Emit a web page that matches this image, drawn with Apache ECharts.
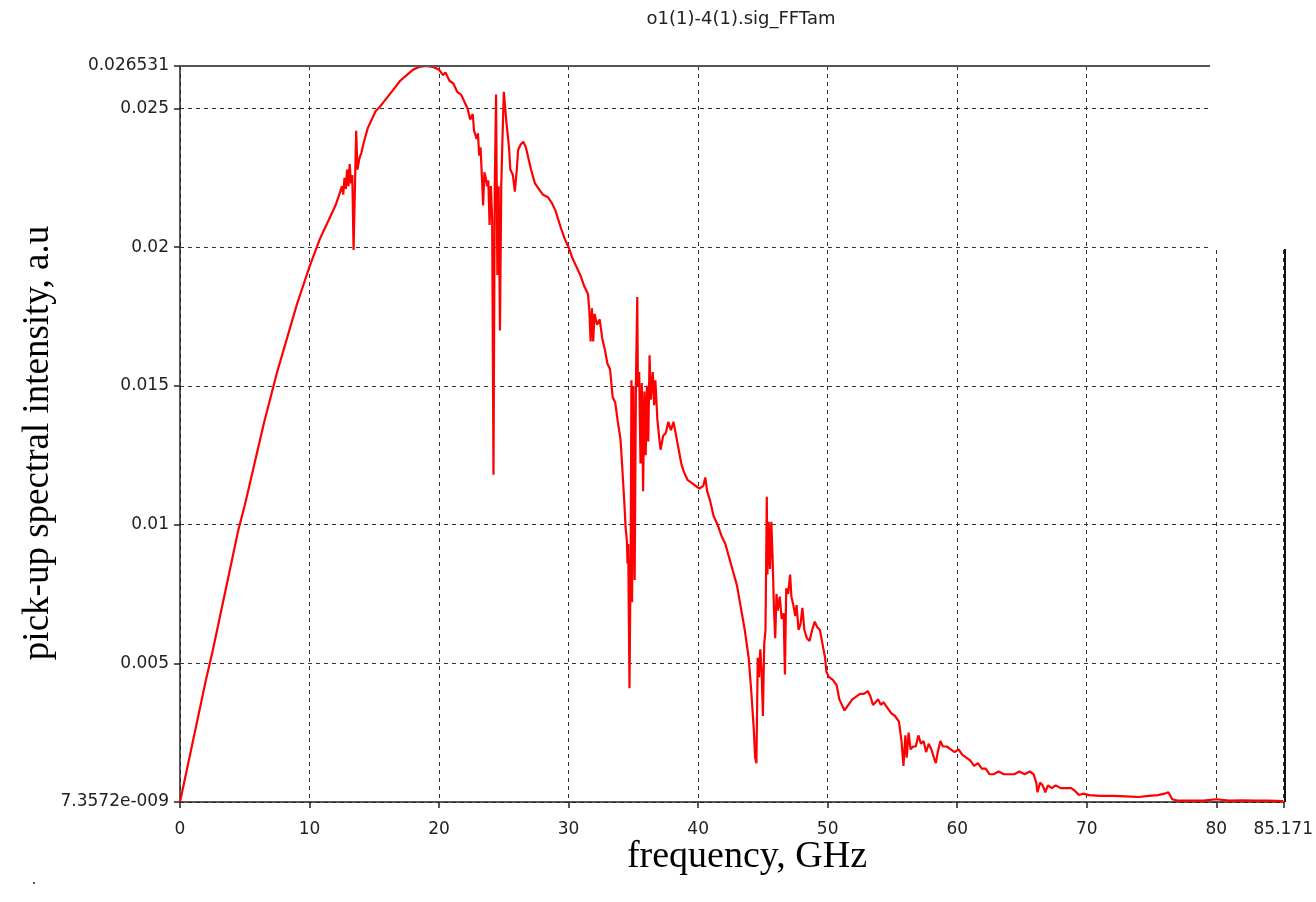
<!DOCTYPE html>
<html>
<head>
<meta charset="utf-8">
<script src="https://cdn.jsdelivr.net/npm/echarts@6/dist/echarts.min.js"></script>
<style>
html,body{margin:0;padding:0;background:#fff;}
#chart{width:1316px;height:902px;}
</style>
</head>
<body>
<div id="chart"></div>
<script>
const chartTitle = 'o1(1)-4(1).sig_FFTam';
const xName = 'frequency, GHz';
const yName = 'pick-up spectral intensity, a.u';
const xMax = 85.171;
const yMax = 0.026531;
const yMinLabel = '7.3572e-009';

const freq = [
0,0.5,1,1.5,2,2.5,3,3.5,4,4.5,5,5.5,6,6.5,7,7.5,8,8.5,9,9.5,10,
10.4,10.8,11.2,11.6,12.0,12.3,12.5,12.6,12.7,12.8,12.9,13.0,13.1,13.2,13.3,13.4,13.6,13.7,13.85,14.0,14.2,14.5,14.8,15.1,15.5,16.0,16.5,17.0,17.5,18.0,18.5,19.0,19.5,20.0,
20.3,20.5,20.8,21.1,21.4,21.7,22.0,22.2,22.4,22.6,22.7,22.9,23.0,23.1,23.2,23.3,23.4,23.5,23.6,23.7,23.8,23.9,24.0,
24.1,24.2,24.3,24.4,24.5,24.6,24.7,24.8,24.9,25.0,25.2,25.4,25.5,25.7,25.85,26.0,26.1,26.3,26.5,26.7,26.9,27.1,27.4,27.7,28.0,28.4,28.7,29.0,29.4,29.7,30.0,
30.3,30.6,30.9,31.2,31.5,31.6,31.7,31.8,31.9,32.0,32.2,32.4,32.6,32.8,33.0,33.2,33.4,33.6,33.8,34.0,34.1,34.2,34.3,34.4,34.5,34.55,34.6,34.7,34.8,34.85,34.9,35.0,35.1,35.2,35.3,35.35,35.45,35.55,35.65,35.75,35.85,35.95,36.05,36.15,36.25,36.35,36.5,36.6,36.7,36.85,37.0,37.1,37.3,37.5,37.7,37.9,38.1,38.3,38.5,38.7,38.9,39.2,39.5,39.8,40.1,40.4,40.55,40.7,40.9,
41.2,41.5,41.8,42.1,42.4,42.7,43.0,43.3,43.6,43.9,44.1,44.3,44.4,44.5,44.6,44.7,44.8,44.9,45.0,45.1,45.2,45.3,45.35,45.45,45.55,45.65,45.75,45.85,45.95,46.05,46.15,46.3,46.45,46.6,46.7,46.8,46.95,47.1,47.2,47.35,47.5,47.6,47.75,47.9,48.05,48.2,48.4,48.6,48.8,49.0,49.2,49.4,49.6,49.8,49.9,
50.1,50.4,50.7,50.9,51.1,51.3,51.6,51.9,52.2,52.5,52.8,53.1,53.3,53.5,53.7,53.9,54.1,54.3,54.6,54.9,55.2,55.5,55.7,55.85,56.0,56.1,56.25,56.4,56.6,56.8,57.0,57.2,57.4,57.6,57.8,58.0,58.2,58.35,58.5,58.7,58.9,59.2,59.5,59.8,
60.1,60.4,60.7,61.0,61.3,61.6,61.9,62.2,62.5,62.8,63.2,63.6,64.0,64.4,64.8,65.2,65.6,65.9,66.1,66.2,66.4,66.6,66.8,67.0,67.3,67.6,68.0,68.4,68.8,69.1,69.4,69.7,
70.2,71.0,72.0,73.0,74.0,74.8,75.5,76.0,76.3,76.6,77.0,78.0,79.0,80.0,81.0,82.0,83.0,84.0,85.171
];

const intensity = [
0,0.0011,0.0022,0.0033,0.0044,0.0054,0.0065,0.0076,0.0087,0.0098,0.0107,0.0117,0.0127,0.0137,0.0146,0.0155,0.0163,0.0171,0.0179,0.0186,0.0193,
0.0198,0.0203,0.0207,0.0211,0.0215,0.0219,0.0222,0.0219,0.0225,0.0221,0.0228,0.0222,0.0230,0.0223,0.0226,0.0199,0.0242,0.0228,0.0232,0.0234,0.0238,0.0243,0.0246,0.0249,0.0251,0.0254,0.0257,0.0260,0.0262,0.0264,0.0265,0.02653,0.0265,0.0264,
0.0262,0.0263,0.0260,0.0259,0.0256,0.0255,0.0252,0.0250,0.0246,0.0248,0.0242,0.0239,0.0241,0.0233,0.0236,0.0226,0.0215,0.0227,0.0225,0.0222,0.0224,0.0208,0.0222,
0.0210,0.0118,0.0222,0.0255,0.0190,0.0222,0.0170,0.0222,0.0240,0.0256,0.0245,0.0236,0.0228,0.0226,0.0220,0.0228,0.0235,0.0237,0.0238,0.0236,0.0232,0.0228,0.0223,0.0221,0.0219,0.0218,0.0216,0.0213,0.0207,0.0203,0.0200,
0.0196,0.0193,0.0190,0.0186,0.0183,0.0177,0.0166,0.0178,0.0166,0.0176,0.0172,0.0174,0.0167,0.0163,0.0158,0.0156,0.0146,0.0144,0.0137,0.0131,0.0124,0.0116,0.0108,0.0099,0.0094,0.0086,0.0093,0.0041,0.0095,0.0152,0.0072,0.0150,0.0080,0.0152,0.0182,0.0150,0.0155,0.0122,0.0151,0.0112,0.0148,0.0125,0.0150,0.0130,0.0161,0.0145,0.0155,0.0143,0.0152,0.0138,0.0131,0.0127,0.0132,0.0133,0.0137,0.0134,0.0137,0.0132,0.0127,0.0122,0.0119,0.0116,0.0115,0.0114,0.0113,0.0114,0.0117,0.0112,0.0109,
0.0103,0.0100,0.0096,0.0093,0.0088,0.0083,0.0078,0.0070,0.0062,0.0052,0.0040,0.0026,0.0016,0.0014,0.0052,0.0045,0.0055,0.0047,0.0031,0.0057,0.0062,0.0110,0.0082,0.0101,0.0084,0.0101,0.0088,0.0070,0.0059,0.0075,0.0069,0.0074,0.0066,0.0068,0.0046,0.0077,0.0075,0.0082,0.0074,0.0071,0.0067,0.0071,0.0062,0.0064,0.0070,0.0062,0.0059,0.0058,0.0062,0.0065,0.0063,0.0062,0.0057,0.0052,0.0047,
0.0045,0.0044,0.0042,0.0037,0.0035,0.0033,0.0035,0.0037,0.0038,0.0039,0.0039,0.0040,0.0038,0.0035,0.0036,0.0037,0.0035,0.0036,0.0034,0.0032,0.0031,0.0029,0.0022,0.0013,0.0024,0.0016,0.0025,0.0019,0.0020,0.0020,0.0024,0.0021,0.0022,0.0018,0.0021,0.0019,0.0016,0.0014,0.0018,0.0022,0.0020,0.0020,0.0019,0.0018,
0.0019,0.0017,0.0016,0.0015,0.0013,0.0014,0.0012,0.0012,0.0010,0.0010,0.0011,0.0010,0.0010,0.0010,0.0011,0.0010,0.0011,0.0010,0.0007,0.00035,0.0007,0.0006,0.00035,0.0006,0.0005,0.0006,0.0005,0.0005,0.0005,0.0004,0.00025,0.0003,
0.00025,0.00022,0.00022,0.0002,0.00018,0.00022,0.00025,0.0003,0.00035,0.0001,0.00005,0.00005,0.00005,0.0001,0.00005,0.00006,0.00005,0.00005,0.00003
];

const chart = echarts.init(document.getElementById('chart'), null, {renderer:'canvas'});
const seriesData = freq.map((f,i)=>[f,intensity[i]]);

const tickFont = 'DejaVu Sans';

chart.setOption({
  animation:false,
  backgroundColor:'#fff',
  title:{
    text:chartTitle,
    left:736, top:5, textAlign:'center',
    textStyle:{fontFamily:tickFont,fontSize:18,fontWeight:'normal',color:'#222'}
  },
  grid:{left:180,right:31,top:66,bottom:100,containLabel:false},
  xAxis:{
    type:'value', min:0, max:xMax, interval:10,
    axisLine:{show:true,lineStyle:{color:'#222',width:1.5}},
    axisTick:{show:true,length:6,inside:false,lineStyle:{color:'#222',width:1.5}},
    axisLabel:{margin:19,fontFamily:tickFont,fontSize:17,color:'#222',
      formatter:v=> (Math.abs(v-xMax)<1e-6 ? '85.171' : String(Math.round(v))) },
    splitLine:{show:true,lineStyle:{color:'#333',width:1,type:[4,4]}}
  },
  yAxis:{
    type:'value', min:0, max:yMax, interval:0.005,
    axisLine:{show:true,lineStyle:{color:'#222',width:1.5}},
    axisTick:{show:true,length:6,lineStyle:{color:'#222',width:1.5}},
    axisLabel:{margin:11,fontFamily:tickFont,fontSize:17,color:'#222',
      formatter:v=>{
        if (v===0) return yMinLabel;
        if (Math.abs(v-yMax)<1e-9) return '0.026531';
        return String(+v.toFixed(4));
      }},
    splitLine:{show:true,lineStyle:{color:'#333',width:1,type:[4,4]}}
  },
  series:[{
    type:'line', data:seriesData, showSymbol:false, symbol:'none',
    lineStyle:{color:'#ff0000',width:2.2}, z:3, clip:true
  }],
  graphic:[
    {type:'rect', z:100, shape:{x:1211,y:0,width:105,height:249}, style:{fill:'#fff'}},
    {type:'line', z:101, shape:{x1:180,y1:66,x2:1210,y2:66}, style:{stroke:'#555',lineWidth:2}},
    {type:'line', z:101, shape:{x1:1285,y1:249,x2:1285,y2:802}, style:{stroke:'#111',lineWidth:2}},
    {type:'text', z:101, x:38, y:443, rotation:Math.PI/2,
      style:{text:yName, font:'37px "Liberation Serif"', fill:'#000', align:'center', verticalAlign:'middle'}},
    {type:'text', z:101, x:747, y:857,
      style:{text:xName, font:'38px "Liberation Serif"', fill:'#000', align:'center', verticalAlign:'middle'}},
    {type:'rect', z:101, shape:{x:33,y:882,width:2,height:2}, style:{fill:'#555'}}
  ]
});
</script>
</body>
</html>
